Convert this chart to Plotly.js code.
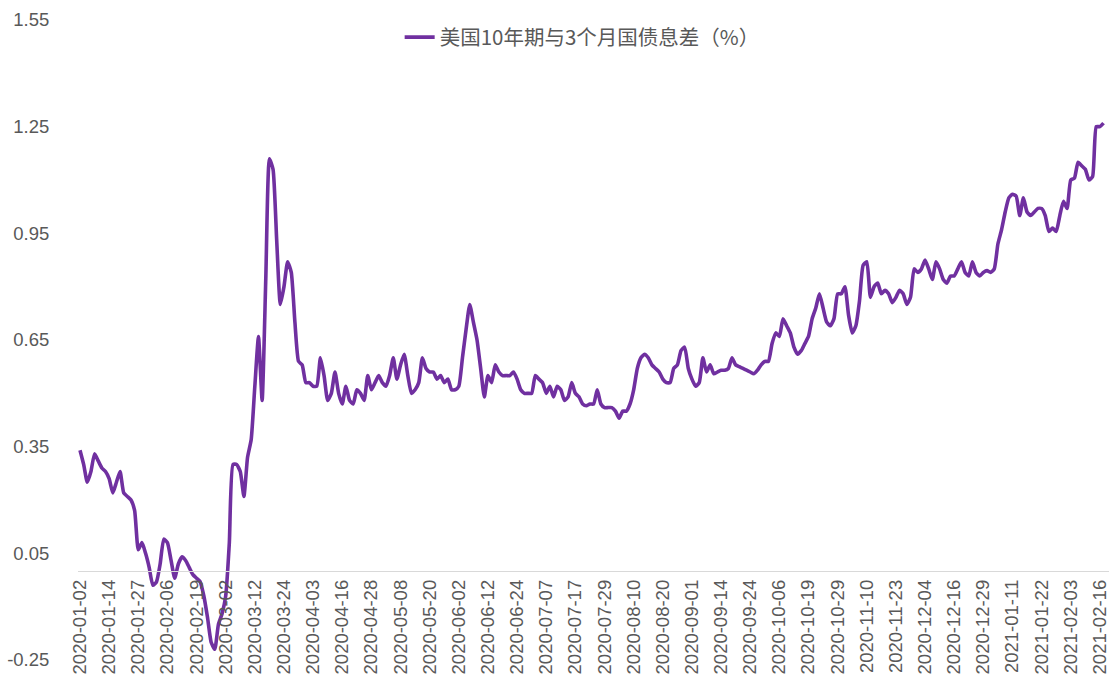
<!DOCTYPE html>
<html>
<head>
<meta charset="utf-8">
<script src="https://cdn.plot.ly/plotly-3.0.1.min.js"></script>
<style>
  html, body { margin: 0; padding: 0; background: #fff; }
  #plotArea { width: 1109px; height: 683px; }
</style>
</head>
<body>
<div id="plotArea"></div>
<script>
// trading days (US bond market), 2020-01-02 .. 2021-02-17
var dates = [
  "2020-01-02","2020-01-03","2020-01-06","2020-01-07","2020-01-08","2020-01-09","2020-01-10","2020-01-13","2020-01-14","2020-01-15","2020-01-16","2020-01-17","2020-01-21","2020-01-22","2020-01-23","2020-01-24","2020-01-27","2020-01-28","2020-01-29","2020-01-30","2020-01-31",
  "2020-02-03","2020-02-04","2020-02-05","2020-02-06","2020-02-07","2020-02-10","2020-02-11","2020-02-12","2020-02-13","2020-02-14","2020-02-18","2020-02-19","2020-02-20","2020-02-21","2020-02-24","2020-02-25","2020-02-26","2020-02-27","2020-02-28",
  "2020-03-02","2020-03-03","2020-03-04","2020-03-05","2020-03-06","2020-03-09","2020-03-10","2020-03-11","2020-03-12","2020-03-13","2020-03-16","2020-03-17","2020-03-18","2020-03-19","2020-03-20","2020-03-23","2020-03-24","2020-03-25","2020-03-26","2020-03-27","2020-03-30","2020-03-31",
  "2020-04-01","2020-04-02","2020-04-03","2020-04-06","2020-04-07","2020-04-08","2020-04-09","2020-04-13","2020-04-14","2020-04-15","2020-04-16","2020-04-17","2020-04-20","2020-04-21","2020-04-22","2020-04-23","2020-04-24","2020-04-27","2020-04-28","2020-04-29","2020-04-30",
  "2020-05-01","2020-05-04","2020-05-05","2020-05-06","2020-05-07","2020-05-08","2020-05-11","2020-05-12","2020-05-13","2020-05-14","2020-05-15","2020-05-18","2020-05-19","2020-05-20","2020-05-21","2020-05-22","2020-05-26","2020-05-27","2020-05-28","2020-05-29",
  "2020-06-01","2020-06-02","2020-06-03","2020-06-04","2020-06-05","2020-06-08","2020-06-09","2020-06-10","2020-06-11","2020-06-12","2020-06-15","2020-06-16","2020-06-17","2020-06-18","2020-06-19","2020-06-22","2020-06-23","2020-06-24","2020-06-25","2020-06-26","2020-06-29","2020-06-30",
  "2020-07-01","2020-07-02","2020-07-06","2020-07-07","2020-07-08","2020-07-09","2020-07-10","2020-07-13","2020-07-14","2020-07-15","2020-07-16","2020-07-17","2020-07-20","2020-07-21","2020-07-22","2020-07-23","2020-07-24","2020-07-27","2020-07-28","2020-07-29","2020-07-30","2020-07-31",
  "2020-08-03","2020-08-04","2020-08-05","2020-08-06","2020-08-07","2020-08-10","2020-08-11","2020-08-12","2020-08-13","2020-08-14","2020-08-17","2020-08-18","2020-08-19","2020-08-20","2020-08-21","2020-08-24","2020-08-25","2020-08-26","2020-08-27","2020-08-28","2020-08-31",
  "2020-09-01","2020-09-02","2020-09-03","2020-09-04","2020-09-08","2020-09-09","2020-09-10","2020-09-11","2020-09-14","2020-09-15","2020-09-16","2020-09-17","2020-09-18","2020-09-21","2020-09-22","2020-09-23","2020-09-24","2020-09-25","2020-09-28","2020-09-29","2020-09-30",
  "2020-10-01","2020-10-02","2020-10-05","2020-10-06","2020-10-07","2020-10-08","2020-10-09","2020-10-13","2020-10-14","2020-10-15","2020-10-16","2020-10-19","2020-10-20","2020-10-21","2020-10-22","2020-10-23","2020-10-26","2020-10-27","2020-10-28","2020-10-29","2020-10-30",
  "2020-11-02","2020-11-03","2020-11-04","2020-11-05","2020-11-06","2020-11-09","2020-11-10","2020-11-12","2020-11-13","2020-11-16","2020-11-17","2020-11-18","2020-11-19","2020-11-20","2020-11-23","2020-11-24","2020-11-25","2020-11-27","2020-11-30",
  "2020-12-01","2020-12-02","2020-12-03","2020-12-04","2020-12-07","2020-12-08","2020-12-09","2020-12-10","2020-12-11","2020-12-14","2020-12-15","2020-12-16","2020-12-17","2020-12-18","2020-12-21","2020-12-22","2020-12-23","2020-12-24","2020-12-28","2020-12-29","2020-12-30","2020-12-31",
  "2021-01-04","2021-01-05","2021-01-06","2021-01-07","2021-01-08","2021-01-11","2021-01-12","2021-01-13","2021-01-14","2021-01-15","2021-01-19","2021-01-20","2021-01-21","2021-01-22","2021-01-25","2021-01-26","2021-01-27","2021-01-28","2021-01-29",
  "2021-02-01","2021-02-02","2021-02-03","2021-02-04","2021-02-05","2021-02-08","2021-02-09","2021-02-10","2021-02-11","2021-02-12","2021-02-16","2021-02-17"
];

// 10y - 3m spread (%), one row per month
var spread = [
  0.34,0.30,0.25,0.28,0.33,0.31,0.29,0.28,0.26,0.22,0.25,0.28,0.22,0.21,0.20,0.17,0.06,0.08,0.05,0.01,-0.04,
  -0.03,0.02,0.09,0.08,0.03,-0.02,0.02,0.04,0.03,0.01,-0.01,-0.02,-0.03,-0.07,-0.13,-0.20,-0.22,-0.15,-0.12,
  -0.07,0.08,0.30,0.30,0.28,0.21,0.32,0.37,0.52,0.66,0.48,0.82,1.16,1.13,0.93,0.75,0.80,0.87,0.84,0.70,0.59,0.58,
  0.53,0.53,0.52,0.52,0.60,0.55,0.48,0.50,0.56,0.50,0.47,0.52,0.48,0.47,0.51,0.50,0.48,0.55,0.51,0.53,0.55,
  0.53,0.52,0.55,0.60,0.54,0.58,0.61,0.55,0.50,0.51,0.53,0.60,0.57,0.56,0.56,0.54,0.55,0.53,0.54,0.51,
  0.51,0.52,0.60,0.68,0.75,0.70,0.65,0.57,0.49,0.55,0.53,0.58,0.56,0.55,0.55,0.55,0.56,0.54,0.51,0.50,0.50,0.50,
  0.55,0.54,0.53,0.50,0.52,0.49,0.52,0.51,0.48,0.49,0.53,0.50,0.49,0.47,0.465,0.47,0.47,0.51,0.47,0.46,0.46,0.46,
  0.45,0.43,0.45,0.45,0.47,0.51,0.57,0.60,0.61,0.60,0.58,0.57,0.56,0.54,0.53,0.53,0.57,0.58,0.62,0.63,0.57,
  0.54,0.52,0.53,0.60,0.56,0.58,0.555,0.56,0.565,0.565,0.57,0.60,0.58,0.575,0.57,0.565,0.56,0.555,0.565,0.58,0.59,
  0.59,0.64,0.67,0.66,0.71,0.69,0.67,0.63,0.61,0.62,0.64,0.66,0.71,0.74,0.78,0.74,0.70,0.69,0.71,0.78,0.78,
  0.80,0.72,0.67,0.69,0.76,0.86,0.87,0.77,0.80,0.81,0.78,0.79,0.78,0.755,0.77,0.79,0.78,0.75,0.77,
  0.85,0.84,0.85,0.875,0.85,0.82,0.87,0.85,0.82,0.81,0.83,0.83,0.85,0.87,0.84,0.83,0.87,0.84,0.83,0.84,0.845,0.84,
  0.85,0.92,0.96,1.01,1.05,1.06,1.055,1.00,1.05,1.01,1.00,1.01,1.02,1.02,1.00,0.955,0.965,0.955,1.00,
  1.04,1.02,1.10,1.105,1.15,1.14,1.13,1.10,1.11,1.25,1.25,1.26
];

var yTicks = [-0.25, 0.05, 0.35, 0.65, 0.95, 1.25, 1.55];
var yTickText = ["-0.25", "0.05", "0.35", "0.65", "0.95", "1.25", "1.55"];
var seriesName = "美国10年期与3个月国债息差（%）";

var trace = {
  x: dates,
  y: spread,
  type: "scatter",
  mode: "lines",
  name: seriesName,
  line: {color: "#7030A0", width: 3.6, shape: "spline", smoothing: 0.5}
};

var layout = {
  width: 1109,
  height: 683,
  margin: {l: 78, r: 0, t: 20, b: 23},
  paper_bgcolor: "#ffffff",
  plot_bgcolor: "#ffffff",
  font: {family: "Liberation Sans, Arial, sans-serif", color: "#595959", size: 18},
  showlegend: true,
  legend: {
    orientation: "h",
    x: 0.489, xanchor: "center",
    y: 0.973, yanchor: "middle",
    font: {family: "Noto Sans CJK SC, sans-serif", size: 20.5, color: "#595959"},
    bgcolor: "rgba(0,0,0,0)"
  },
  xaxis: {
    type: "category",
    range: [-0.55, 282.5],
    tickmode: "linear",
    tick0: 0,
    dtick: 8,
    tickangle: -90,
    tickfont: {size: 18.5, color: "#595959"},
    showgrid: false,
    zeroline: false,
    showline: true,
    linecolor: "#d9d9d9",
    linewidth: 1.3,
    ticks: "",
    anchor: "free",
    position: 0.25 / 1.8
  },
  yaxis: {
    range: [-0.25, 1.55],
    tickmode: "array",
    tickvals: yTicks,
    ticktext: yTickText,
    tickfont: {size: 18.5, color: "#595959"},
    showgrid: false,
    zeroline: false,
    showline: false,
    ticks: "outside",
    ticklen: 24,
    tickcolor: "rgba(0,0,0,0)"
  }
};

Plotly.newPlot("plotArea", [trace], layout, {displayModeBar: false, staticPlot: true});
</script>
</body>
</html>
